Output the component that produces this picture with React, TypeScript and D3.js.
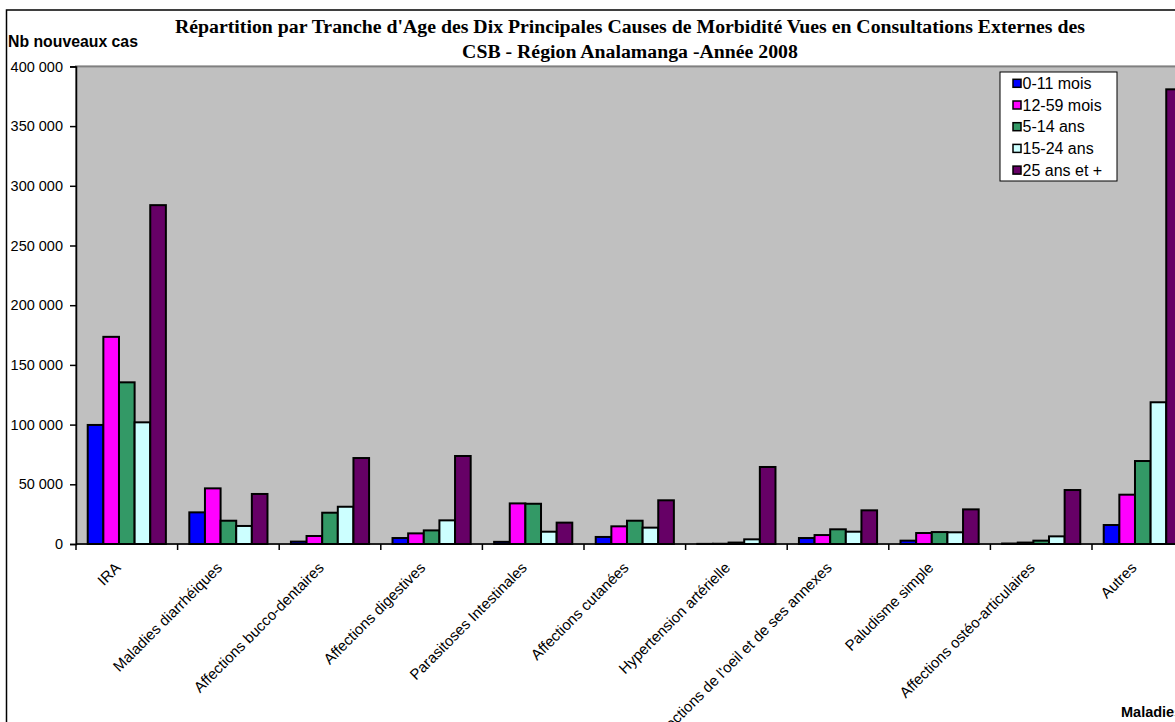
import * as d3 from "d3";
import { useEffect, useRef } from "react";

// Categories (x axis)
const categories = [
    "IRA",
    "Maladies diarrhéiques",
    "Affections bucco-dentaires",
    "Affections digestives",
    "Parasitoses Intestinales",
    "Affections cutanées",
    "Hypertension artérielle",
    "Affections de l'oeil et de ses annexes",
    "Paludisme simple",
    "Affections ostéo-articulaires",
    "Autres"
];

// Series (age groups)
const seriesNames = ["0-11 mois", "12-59 mois", "5-14 ans", "15-24 ans", "25 ans et +"];
const seriesColors = ["#0000FF", "#FF00FF", "#339966", "#CCFFFF", "#660066"];

const age0to11m = [99700, 26500, 2000, 5000, 1800, 5900, 100, 5000, 2800, 400, 15900];
const age12to59m = [173500, 46600, 6700, 8900, 34000, 14800, 200, 7500, 9200, 1200, 41300];
const age5to14 = [135400, 19500, 26200, 11400, 33700, 19500, 1200, 12300, 10000, 2800, 69500];
const age15to24 = [101900, 15100, 31200, 19800, 10300, 13700, 3900, 10300, 9800, 6400, 118700];
const age25plus = [283800, 41900, 72000, 73700, 17900, 36600, 64500, 28200, 29000, 45200, 380800];

const yTicks = [0, 50000, 100000, 150000, 200000, 250000, 300000, 350000, 400000];

const titleLines = [
    "Répartition par Tranche d'Age des Dix Principales Causes de Morbidité Vues en Consultations Externes des",
    "CSB - Région Analamanga -Année 2008"
];

const Chart = () => {
    const svgRef = useRef<SVGSVGElement | null>(null);

    useEffect(() => {
        if (!svgRef.current) return;

        const width = 1175;
        const height = 722;
        const plot = { left: 76, top: 66.4, bottom: 544, step: 101.6 };
        const plotRight = plot.left + plot.step * categories.length;
        const sans = "Arial, 'Liberation Sans', sans-serif";

        const series = [age0to11m, age12to59m, age5to14, age15to24, age25plus];

        const svg = d3.select(svgRef.current)
            .attr("width", width)
            .attr("height", height)
            .style("background", "#ffffff");

        svg.selectAll("*").remove();

        // outer chart border
        svg.append("rect")
            .attr("x", 6.5).attr("y", 10)
            .attr("width", width + 20).attr("height", height + 20)
            .attr("fill", "#ffffff")
            .attr("stroke", "#000000")
            .attr("stroke-width", 1.5);

        // Scales
        const x0 = d3.scaleBand()
            .domain(categories)
            .range([plot.left, plotRight])
            .padding(0);

        // gap width 150% -> 0.75 bar on each side of the group
        const x1 = d3.scaleBand()
            .domain(seriesNames)
            .range([0, x0.bandwidth()])
            .paddingInner(0)
            .paddingOuter(0.75);

        const y = d3.scaleLinear()
            .domain([0, 400000])
            .range([plot.bottom, plot.top]);

        // plot area
        svg.append("rect")
            .attr("x", plot.left)
            .attr("y", plot.top)
            .attr("width", plotRight - plot.left)
            .attr("height", plot.bottom - plot.top)
            .attr("fill", "#C0C0C0")
            .attr("stroke", "#808080")
            .attr("stroke-width", 2);

        // bars
        const groups = svg.append("g")
            .selectAll("g")
            .data(series)
            .join("g")
            .attr("fill", (_, i) => seriesColors[i]);

        groups.selectAll("rect")
            .data((d, i) => d.map((v, j) => ({ v, cat: categories[j], s: seriesNames[i] })))
            .join("rect")
            .attr("x", d => x0(d.cat)! + x1(d.s)!)
            .attr("y", d => y(d.v))
            .attr("width", x1.bandwidth())
            .attr("height", d => plot.bottom - y(d.v))
            .attr("stroke", "#000000")
            .attr("stroke-width", 2);

        // y axis
        const fmt = (v: number) => d3.format(",")(v).replace(/,/g, " ");
        const yAxis = svg.append("g")
            .attr("transform", `translate(${plot.left},0)`)
            .call(d3.axisLeft(y).tickValues(yTicks).tickSize(6).tickPadding(7).tickFormat(d => fmt(+d)));
        yAxis.select(".domain").attr("stroke", "#000").attr("stroke-width", 1.5);
        yAxis.selectAll("line").attr("stroke", "#000").attr("stroke-width", 1.5);
        yAxis.selectAll("text")
            .attr("font-family", sans)
            .attr("font-size", 14.5)
            .attr("fill", "#000");

        // x axis (ticks between categories)
        const xAxis = svg.append("g");
        xAxis.append("line")
            .attr("x1", plot.left).attr("x2", plotRight)
            .attr("y1", plot.bottom).attr("y2", plot.bottom)
            .attr("stroke", "#000").attr("stroke-width", 1.5);
        xAxis.selectAll("line.tick")
            .data(d3.range(categories.length + 1))
            .join("line")
            .attr("class", "tick")
            .attr("x1", i => plot.left + i * x0.step())
            .attr("x2", i => plot.left + i * x0.step())
            .attr("y1", plot.bottom)
            .attr("y2", plot.bottom + 6)
            .attr("stroke", "#000").attr("stroke-width", 1.5);

        xAxis.selectAll("text")
            .data(categories)
            .join("text")
            .attr("transform", d => `translate(${x0(d)! + x0.bandwidth() / 2 - 9},${plot.bottom + 21}) rotate(-45)`)
            .attr("text-anchor", "end")
            .attr("dy", "0.35em")
            .attr("font-family", sans)
            .attr("font-size", 15)
            .attr("fill", "#000")
            .text(d => d);

        // titles
        svg.append("g")
            .selectAll("text")
            .data(titleLines)
            .join("text")
            .attr("x", 630)
            .attr("y", (_, i) => 33 + i * 25)
            .attr("text-anchor", "middle")
            .attr("font-family", "'Times New Roman', 'Liberation Serif', serif")
            .attr("font-weight", "bold")
            .attr("font-size", 19.8)
            .text(d => d);

        svg.append("text")
            .attr("x", 8).attr("y", 47)
            .attr("font-family", sans)
            .attr("font-weight", "bold")
            .attr("font-size", 15.8)
            .text("Nb nouveaux cas");

        svg.append("text")
            .attr("x", 1121).attr("y", 717)
            .attr("font-family", sans)
            .attr("font-weight", "bold")
            .attr("font-size", 14.5)
            .text("Maladies");

        // legend
        const legend = svg.append("g").attr("transform", "translate(1000,72)");
        legend.append("rect")
            .attr("width", 117).attr("height", 109)
            .attr("fill", "#ffffff")
            .attr("stroke", "#000").attr("stroke-width", 1);
        const items = legend.selectAll("g.item")
            .data(seriesNames)
            .join("g")
            .attr("class", "item")
            .attr("transform", (_, i) => `translate(13,${11.3 + i * 21.7})`);
        items.append("rect")
            .attr("x", 0).attr("y", -4)
            .attr("width", 8).attr("height", 8)
            .attr("fill", (_, i) => seriesColors[i])
            .attr("stroke", "#000").attr("stroke-width", 1.5);
        items.append("text")
            .attr("x", 9.5)
            .attr("dy", "0.36em")
            .attr("font-family", sans)
            .attr("font-size", 16)
            .text(d => d);
    }, []);

    return <svg ref={svgRef} style={{ position: "absolute", left: 0, top: 0, overflow: "hidden" }}></svg>;
};

export default function App() {
    return <Chart />;
}
